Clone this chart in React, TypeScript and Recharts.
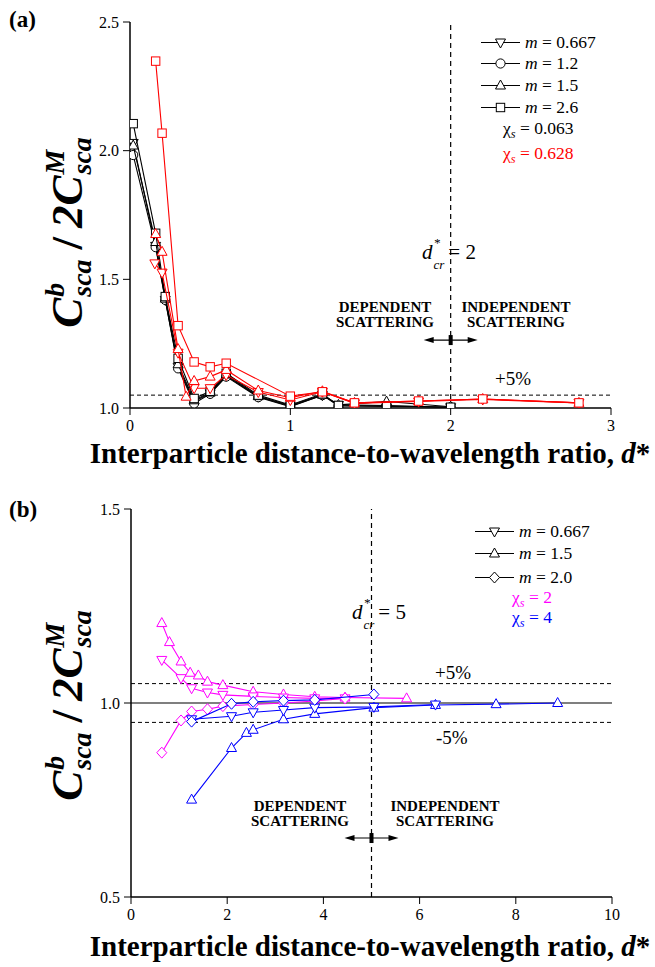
import React from "react";
import {
  ScatterChart,
  Scatter,
  XAxis,
  YAxis,
  ReferenceLine,
  ReferenceDot,
} from "recharts";

const FONT = "'Liberation Serif', 'Times New Roman', serif";
const RED = "#ff0000";
const MAG = "#ff00ff";
const BLUE = "#0000ff";

// ---- panel (a): chi_s = 0.063 (black) and 0.628 (red)
const aBlackX = [0.02, 0.16, 0.22, 0.3, 0.4, 0.5, 0.6, 0.8, 1.0, 1.2, 1.3, 1.6, 2.0];
const aBlackDown = [2.03, 1.63, 1.42, 1.16, 1.025, 1.057, 1.125, 1.044, 1.007, 1.05, 1.012, 1.01, 1.003];
const aBlackCircle = [1.983, 1.625, 1.42, 1.154, 1.018, 1.055, 1.122, 1.042, 1.005, 1.05, 1.008, 1.006, 1.003];
const aBlackUp = [2.02, 1.645, 1.425, 1.17, 1.03, 1.06, 1.13, 1.046, 1.01, 1.052, 1.012, 1.025, 1.005];
const aBlackSquare = [2.105, 1.679, 1.433, 1.193, 1.037, 1.065, 1.135, 1.05, 1.012, 1.055, 1.01, 1.008, 1.003];

const aRedSquareX = [0.16, 0.2, 0.3, 0.4, 0.5, 0.6, 1.0, 1.2, 1.4, 1.8, 2.2, 2.8];
const aRedSquare = [2.348, 2.068, 1.32, 1.179, 1.16, 1.174, 1.046, 1.063, 1.02, 1.027, 1.035, 1.02];
const aRedUpX = [0.16, 0.2, 0.3, 0.35, 0.4, 0.5, 0.6, 0.8, 1.0, 1.2, 1.4, 1.8, 2.2, 2.8];
const aRedUp = [1.676, 1.607, 1.229, 1.044, 1.105, 1.122, 1.148, 1.068, 1.04, 1.065, 1.02, 1.027, 1.035, 1.02];
const aRedDownX = [0.155, 0.2, 0.3, 0.4, 0.5, 0.6, 0.8, 1.0, 1.2, 1.4, 1.8, 2.2, 2.8];
const aRedDown = [1.562, 1.526, 1.215, 1.077, 1.077, 1.128, 1.062, 1.031, 1.063, 1.018, 1.025, 1.033, 1.02];

const aXMajor = [0, 1, 2, 3];
const aXMinor = [0.5, 1.5, 2.5];
const aXAll = [0, 0.5, 1, 1.5, 2, 2.5, 3];
const aYMajor = [1.0, 1.5, 2.0, 2.5];
const aYMinor = [1.1, 1.2, 1.3, 1.4, 1.6, 1.7, 1.8, 1.9, 2.1, 2.2, 2.3, 2.4];
const aYAll = [1.0, 1.1, 1.2, 1.3, 1.4, 1.5, 1.6, 1.7, 1.8, 1.9, 2.0, 2.1, 2.2, 2.3, 2.4, 2.5];

// ---- panel (b): chi_s = 2 (magenta) and 4 (blue)
const bMagUpX = [0.64, 0.8, 1.04, 1.23, 1.4, 1.59, 1.91, 2.54, 3.17, 3.82, 4.45, 5.73];
const bMagUp = [1.206, 1.157, 1.107, 1.078, 1.071, 1.055, 1.046, 1.029, 1.022, 1.016, 1.014, 1.012];
const bMagDownX = [0.64, 1.04, 1.26, 1.59, 1.91, 2.54, 3.17, 3.82, 4.45];
const bMagDown = [1.111, 1.064, 1.038, 1.027, 1.021, 1.017, 1.014, 1.012, 1.012];
const bMagDiamondX = [0.64, 1.04, 1.26, 1.59, 1.91, 2.54, 3.17, 3.82, 4.45];
const bMagDiamond = [0.872, 0.955, 0.978, 0.984, 0.992, 0.996, 1.0, 1.005, 1.012];

const bBlueUpX = [1.26, 2.09, 2.4, 2.54, 3.17, 3.82, 5.05, 6.33, 7.59, 8.87];
const bBlueUp = [0.751, 0.884, 0.923, 0.931, 0.958, 0.972, 0.988, 0.995, 0.997, 1.0];
const bBlueDownX = [1.26, 2.09, 2.54, 3.17, 3.82, 5.05, 6.33];
const bBlueDown = [0.958, 0.966, 0.976, 0.982, 0.988, 0.99, 0.996];
const bBlueDiamondX = [1.26, 2.09, 2.54, 3.17, 3.82, 5.05];
const bBlueDiamond = [0.952, 0.998, 1.003, 1.006, 1.008, 1.022];

const bXMajor = [0, 2, 4, 6, 8, 10];
const bXMinor = [1, 3, 5, 7, 9];
const bXAll = [0, 1, 2, 3, 4, 5, 6, 7, 8, 9, 10];
const bYMajor = [0.5, 1.0, 1.5];
const bYMinor = [0.6, 0.7, 0.8, 0.9, 1.1, 1.2, 1.3, 1.4];
const bYAll = [0.5, 0.6, 0.7, 0.8, 0.9, 1.0, 1.1, 1.2, 1.3, 1.4, 1.5];

const pts = (xs: number[], ys: number[]) => xs.map((x, i) => ({ x, y: ys[i] }));

type Kind = "down" | "up" | "circle" | "square" | "diamond";

function Marker({ kind, cx, cy, color }: { kind: Kind; cx: number; cy: number; color: string }) {
  const st = { fill: "#fff", stroke: color, strokeWidth: 1 };
  if (kind === "up")
    return <polygon points={`${cx},${cy - 5.5} ${cx - 5},${cy + 3.5} ${cx + 5},${cy + 3.5}`} {...st} />;
  if (kind === "down")
    return <polygon points={`${cx},${cy + 5.5} ${cx - 5},${cy - 3.5} ${cx + 5},${cy - 3.5}`} {...st} />;
  if (kind === "circle") return <circle cx={cx} cy={cy} r={4.6} {...st} />;
  if (kind === "square") return <rect x={cx - 4.2} y={cy - 4.2} width={8.4} height={8.4} {...st} />;
  return <polygon points={`${cx},${cy - 5.5} ${cx + 5},${cy} ${cx},${cy + 5.5} ${cx - 5},${cy}`} {...st} />;
}

const shapeOf = (kind: Kind, color: string) => (p: any) =>
  <Marker kind={kind} cx={p.cx} cy={p.cy} color={color} />;

function series(key: string, xs: number[], ys: number[], kind: Kind, color: string) {
  return (
    <Scatter
      key={key}
      data={pts(xs, ys)}
      dataKey="y"
      fill="#fff"
      shape={shapeOf(kind, color)}
      line={{ stroke: color, strokeWidth: 1.1 }}
      lineType="joint"
      isAnimationActive={false}
    />
  );
}

// double-headed arrow with a small bar in the middle
const Arrow = (p: any) => {
  const { cx, cy } = p;
  const h = 27;
  return (
    <g>
      <line x1={cx - h + 8} y1={cy} x2={cx + h - 8} y2={cy} stroke="#000" strokeWidth={1.2} />
      <polygon points={`${cx - h},${cy} ${cx - h + 10},${cy - 3} ${cx - h + 10},${cy + 3}`} fill="#000" />
      <polygon points={`${cx + h},${cy} ${cx + h - 10},${cy - 3} ${cx + h - 10},${cy + 3}`} fill="#000" />
      <rect x={cx - 2} y={cy - 5} width={4} height={10} fill="#000" />
    </g>
  );
};

const tickFont = { fill: "#000", fontSize: 16, fontFamily: FONT };
const frame = { stroke: "#000", strokeWidth: 1.5 };

function Axes({ xd, yd, xMajor, xMinor, xAll, yMajor, yMinor, yAll }: any) {
  return [
    <XAxis key="xb" type="number" dataKey="x" domain={xd} ticks={xMajor} allowDataOverflow
      tickSize={7} tickMargin={5} height={30} axisLine={frame} tickLine={{ stroke: "#000" }}
      tick={tickFont} />,
    <XAxis key="xbm" xAxisId="bm" type="number" domain={xd} ticks={xMinor} allowDataOverflow mirror
      tick={false} tickSize={5} axisLine={false} tickLine={{ stroke: "#000" }} height={0} />,
    <XAxis key="xt" xAxisId="top" orientation="top" type="number" domain={xd} ticks={xAll} allowDataOverflow mirror
      tick={false} tickSize={5} axisLine={frame} tickLine={{ stroke: "#000" }} height={0} />,
    <YAxis key="yl" type="number" dataKey="y" domain={yd} ticks={yMajor} allowDataOverflow
      tickSize={7} tickMargin={4} width={60} axisLine={frame} tickLine={{ stroke: "#000" }}
      tick={tickFont} tickFormatter={(v: number) => v.toFixed(1)} />,
    <YAxis key="ylm" yAxisId="lm" type="number" domain={yd} ticks={yMinor} allowDataOverflow mirror
      tick={false} tickSize={5} axisLine={false} tickLine={{ stroke: "#000" }} width={0} />,
    <YAxis key="yr" yAxisId="right" orientation="right" type="number" domain={yd} ticks={yAll} allowDataOverflow mirror
      tick={false} tickSize={5} axisLine={frame} tickLine={{ stroke: "#000" }} width={0} />,
  ];
}

const SupSub = ({ sup, sub }: { sup: string; sub: string }) => (
  <span style={{ display: "inline-flex", flexDirection: "column", fontSize: "0.62em", lineHeight: 0.95, margin: "0 1px", transform: "translateY(0.1em)" }}>
    <span>{sup}</span>
    <span>{sub}</span>
  </span>
);

const YLabel = ({ cx, cy }: { cx: number; cy: number }) => (
  <div style={{
    position: "absolute", left: cx, top: cy, transform: "translate(-50%,-50%) rotate(-90deg)",
    whiteSpace: "nowrap", fontFamily: FONT, fontWeight: "bold", fontStyle: "italic", fontSize: 45,
    display: "flex", alignItems: "center",
  }}>
    C<SupSub sup="b" sub="sca" />
    <span style={{ margin: "0 9px", fontStyle: "normal" }}>/</span>
    2C<SupSub sup="M" sub="sca" />
  </div>
);

const XLabel = ({ cx, cy }: { cx: number; cy: number }) => (
  <div style={{
    position: "absolute", left: cx, top: cy, transform: "translate(-50%,-50%)",
    whiteSpace: "nowrap", fontFamily: FONT, fontWeight: "bold", fontSize: 29,
  }}>
    Interparticle distance-to-wavelength ratio, <i>d</i>*
  </div>
);

const Txt = ({ left, top, children, style }: any) => (
  <div style={{
    position: "absolute", left, top, transform: "translateY(-50%)", whiteSpace: "nowrap",
    fontFamily: FONT, fontSize: 18, lineHeight: 1, ...style,
  }}>
    {children}
  </div>
);

const LegendRow = ({ kind, label, left, top }: { kind: Kind; label: string; left: number; top: number }) => (
  <div style={{
    position: "absolute", left, top, transform: "translateY(-50%)", display: "flex",
    alignItems: "center", fontFamily: FONT, fontSize: 17.5, whiteSpace: "nowrap",
  }}>
    <svg width={39} height={14} style={{ display: "block" }}>
      <line x1={0} y1={7} x2={39} y2={7} stroke="#000" strokeWidth={1.1} />
      <Marker kind={kind} cx={19.5} cy={7} color="#000" />
    </svg>
    <span style={{ marginLeft: 5 }}><i>m</i> = {label}</span>
  </div>
);

const Chi = ({ value }: { value: string }) => (
  <span>χ<sub style={{ fontSize: "0.7em", fontStyle: "italic" }}>s</sub> = {value}</span>
);

const Dcr = ({ value }: { value: string }) => (
  <span style={{ display: "inline-flex", alignItems: "center", fontSize: 21 }}>
    <i>d</i>
    <span style={{ display: "inline-flex", flexDirection: "column", fontSize: 13, lineHeight: 1, fontStyle: "italic", marginLeft: 1 }}>
      <span style={{ transform: "translateY(-3px)" }}>*</span>
      <span style={{ transform: "translateY(6px)" }}>cr</span>
    </span>
    <span style={{ marginLeft: 4 }}>= {value}</span>
  </span>
);

const Block = ({ cx, cy, lines }: { cx: number; cy: number; lines: string[] }) => (
  <div style={{
    position: "absolute", left: cx, top: cy, transform: "translate(-50%,-50%)", fontFamily: FONT,
    fontWeight: "bold", fontSize: 15, lineHeight: "15px", textAlign: "center", whiteSpace: "nowrap",
  }}>
    {lines.map((l) => <div key={l}>{l}</div>)}
  </div>
);

export default function App() {
  return (
    <div style={{ position: "absolute", left: 0, top: 0, width: 655, height: 967, background: "#fff" }}>
      {/* panel (a) */}
      <div style={{ position: "absolute", left: 0, top: 0 }}>
        <ScatterChart width={655} height={470} margin={{ top: 22, right: 44, left: 70, bottom: 32 }}>
          {Axes({ xd: [0, 3], yd: [1, 2.5], xMajor: aXMajor, xMinor: aXMinor, xAll: aXAll, yMajor: aYMajor, yMinor: aYMinor, yAll: aYAll })}
          <ReferenceLine x={2} stroke="#000" strokeWidth={1.2} strokeDasharray="5 4" />
          <ReferenceLine y={1.05} stroke="#000" strokeWidth={1} strokeDasharray="4 3" />
          {series("bd", aBlackX, aBlackDown, "down", "#000")}
          {series("bc", aBlackX, aBlackCircle, "circle", "#000")}
          {series("bu", aBlackX, aBlackUp, "up", "#000")}
          {series("bs", aBlackX, aBlackSquare, "square", "#000")}
          {series("rd", aRedDownX, aRedDown, "down", RED)}
          {series("ru", aRedUpX, aRedUp, "up", RED)}
          {series("rs", aRedSquareX, aRedSquare, "square", RED)}
          <ReferenceDot x={2} y={1.264} r={0} shape={Arrow} />
        </ScatterChart>
      </div>

      {/* panel (b) */}
      <div style={{ position: "absolute", left: 0, top: 480 }}>
        <ScatterChart width={655} height={480} margin={{ top: 29, right: 43, left: 71, bottom: 33 }}>
          {Axes({ xd: [0, 10], yd: [0.5, 1.5], xMajor: bXMajor, xMinor: bXMinor, xAll: bXAll, yMajor: bYMajor, yMinor: bYMinor, yAll: bYAll })}
          <ReferenceLine x={5} stroke="#000" strokeWidth={1.2} strokeDasharray="5 4" />
          <ReferenceLine y={1.05} stroke="#000" strokeWidth={1} strokeDasharray="4 3" />
          <ReferenceLine y={0.95} stroke="#000" strokeWidth={1} strokeDasharray="4 3" />
          <ReferenceLine y={1.0} stroke="#555" strokeWidth={1.6} />
          {series("mu", bMagUpX, bMagUp, "up", MAG)}
          {series("md", bMagDownX, bMagDown, "down", MAG)}
          {series("mdi", bMagDiamondX, bMagDiamond, "diamond", MAG)}
          {series("bu", bBlueUpX, bBlueUp, "up", BLUE)}
          {series("bd", bBlueDownX, bBlueDown, "down", BLUE)}
          {series("bdi", bBlueDiamondX, bBlueDiamond, "diamond", BLUE)}
          <ReferenceDot x={5} y={0.652} r={0} shape={Arrow} />
        </ScatterChart>
      </div>

      {/* panel labels and axis titles */}
      <Txt left={9} top={19} style={{ fontWeight: "bold", fontSize: 23 }}>(a)</Txt>
      <Txt left={9} top={509} style={{ fontWeight: "bold", fontSize: 23 }}>(b)</Txt>
      <YLabel cx={66} cy={232} />
      <YLabel cx={66} cy={705} />
      <XLabel cx={370} cy={453} />
      <XLabel cx={370} cy={946} />

      {/* panel (a) annotations */}
      <LegendRow kind="down" label="0.667" left={481} top={42} />
      <LegendRow kind="circle" label="1.2" left={481} top={63} />
      <LegendRow kind="up" label="1.5" left={481} top={85} />
      <LegendRow kind="square" label="2.6" left={481} top={107} />
      <Txt left={503} top={130} style={{ fontSize: 17.5 }}><Chi value="0.063" /></Txt>
      <Txt left={503} top={155} style={{ fontSize: 17.5, color: RED }}><Chi value="0.628" /></Txt>
      <Txt left={422} top={252}><Dcr value="2" /></Txt>
      <Block cx={385} cy={315} lines={["DEPENDENT", "SCATTERING"]} />
      <Block cx={516} cy={315} lines={["INDEPENDENT", "SCATTERING"]} />
      <Txt left={495} top={378} style={{ fontSize: 19 }}>+5%</Txt>

      {/* panel (b) annotations */}
      <LegendRow kind="down" label="0.667" left={475} top={531} />
      <LegendRow kind="up" label="1.5" left={475} top={553} />
      <LegendRow kind="diamond" label="2.0" left={475} top={577} />
      <Txt left={512} top={599} style={{ fontSize: 17.5, color: MAG }}><Chi value="2" /></Txt>
      <Txt left={512} top={619} style={{ fontSize: 17.5, color: BLUE }}><Chi value="4" /></Txt>
      <Txt left={352} top={612}><Dcr value="5" /></Txt>
      <Txt left={435} top={672} style={{ fontSize: 19 }}>+5%</Txt>
      <Txt left={436} top={737} style={{ fontSize: 19 }}>-5%</Txt>
      <Block cx={300} cy={814} lines={["DEPENDENT", "SCATTERING"]} />
      <Block cx={445} cy={814} lines={["INDEPENDENT", "SCATTERING"]} />
    </div>
  );
}
